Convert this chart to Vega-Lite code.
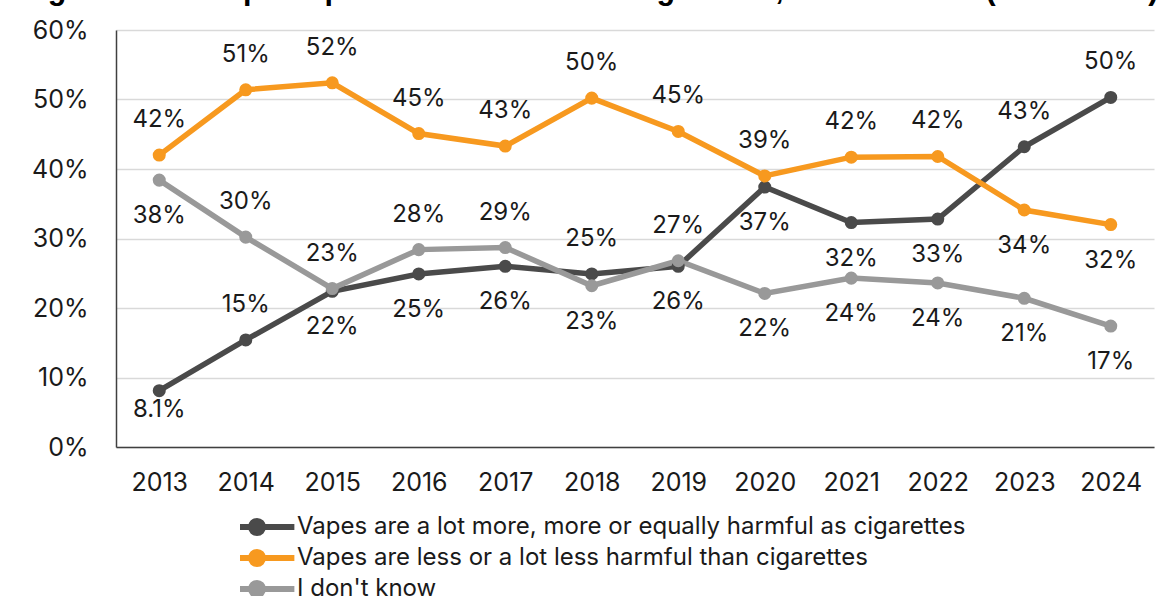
{
  "$schema": "https://vega.github.io/schema/vega-lite/v6.json",
  "width": 1038,
  "height": 417,
  "autosize": "none",
  "padding": {"left": 116, "top": 30, "right": 8, "bottom": 149},
  "background": "white",
  "title": {
    "text": "Figure 3: Adult perception of harm from e-cigarettes, Great Britain (2013–2024)",
    "anchor": "start",
    "frame": "bounds",
    "font": "Liberation Sans",
    "fontSize": 30.5,
    "fontWeight": "bold",
    "color": "#000000",
    "baseline": "alphabetic",
    "offset": 2,
    "dy": 13,
    "dx": -11
  },
  "data": {
    "values": [
      {"year": "2013", "series": "Vapes are a lot more, more or equally harmful as cigarettes", "value": 8.1, "label": "8.1%"},
      {"year": "2014", "series": "Vapes are a lot more, more or equally harmful as cigarettes", "value": 15.4, "label": "15%"},
      {"year": "2015", "series": "Vapes are a lot more, more or equally harmful as cigarettes", "value": 22.4, "label": "22%"},
      {"year": "2016", "series": "Vapes are a lot more, more or equally harmful as cigarettes", "value": 24.9, "label": "25%"},
      {"year": "2017", "series": "Vapes are a lot more, more or equally harmful as cigarettes", "value": 26.0, "label": "26%"},
      {"year": "2018", "series": "Vapes are a lot more, more or equally harmful as cigarettes", "value": 24.9, "label": "25%"},
      {"year": "2019", "series": "Vapes are a lot more, more or equally harmful as cigarettes", "value": 26.0, "label": "26%"},
      {"year": "2020", "series": "Vapes are a lot more, more or equally harmful as cigarettes", "value": 37.4, "label": "37%"},
      {"year": "2021", "series": "Vapes are a lot more, more or equally harmful as cigarettes", "value": 32.3, "label": "32%"},
      {"year": "2022", "series": "Vapes are a lot more, more or equally harmful as cigarettes", "value": 32.8, "label": "33%"},
      {"year": "2023", "series": "Vapes are a lot more, more or equally harmful as cigarettes", "value": 43.2, "label": "43%"},
      {"year": "2024", "series": "Vapes are a lot more, more or equally harmful as cigarettes", "value": 50.3, "label": "50%"},
      {"year": "2013", "series": "Vapes are less or a lot less harmful than cigarettes", "value": 42.0, "label": "42%"},
      {"year": "2014", "series": "Vapes are less or a lot less harmful than cigarettes", "value": 51.4, "label": "51%"},
      {"year": "2015", "series": "Vapes are less or a lot less harmful than cigarettes", "value": 52.4, "label": "52%"},
      {"year": "2016", "series": "Vapes are less or a lot less harmful than cigarettes", "value": 45.1, "label": "45%"},
      {"year": "2017", "series": "Vapes are less or a lot less harmful than cigarettes", "value": 43.3, "label": "43%"},
      {"year": "2018", "series": "Vapes are less or a lot less harmful than cigarettes", "value": 50.2, "label": "50%"},
      {"year": "2019", "series": "Vapes are less or a lot less harmful than cigarettes", "value": 45.4, "label": "45%"},
      {"year": "2020", "series": "Vapes are less or a lot less harmful than cigarettes", "value": 39.0, "label": "39%"},
      {"year": "2021", "series": "Vapes are less or a lot less harmful than cigarettes", "value": 41.7, "label": "42%"},
      {"year": "2022", "series": "Vapes are less or a lot less harmful than cigarettes", "value": 41.8, "label": "42%"},
      {"year": "2023", "series": "Vapes are less or a lot less harmful than cigarettes", "value": 34.1, "label": "34%"},
      {"year": "2024", "series": "Vapes are less or a lot less harmful than cigarettes", "value": 32.0, "label": "32%"},
      {"year": "2013", "series": "I don't know", "value": 38.4, "label": "38%"},
      {"year": "2014", "series": "I don't know", "value": 30.2, "label": "30%"},
      {"year": "2015", "series": "I don't know", "value": 22.8, "label": "23%"},
      {"year": "2016", "series": "I don't know", "value": 28.4, "label": "28%"},
      {"year": "2017", "series": "I don't know", "value": 28.7, "label": "29%"},
      {"year": "2018", "series": "I don't know", "value": 23.2, "label": "23%"},
      {"year": "2019", "series": "I don't know", "value": 26.8, "label": "27%"},
      {"year": "2020", "series": "I don't know", "value": 22.1, "label": "22%"},
      {"year": "2021", "series": "I don't know", "value": 24.3, "label": "24%"},
      {"year": "2022", "series": "I don't know", "value": 23.6, "label": "24%"},
      {"year": "2023", "series": "I don't know", "value": 21.4, "label": "21%"},
      {"year": "2024", "series": "I don't know", "value": 17.4, "label": "17%"}
    ]
  },
  "encoding": {
    "x": {
      "field": "year",
      "type": "ordinal",
      "scale": {"type": "point", "padding": 0.5},
      "axis": {
        "title": null,
        "labelAngle": 0,
        "ticks": false,
        "labelPadding": 23,
        "domainColor": "#404040",
        "domainWidth": 1.5,
        "grid": false
      }
    },
    "y": {
      "field": "value",
      "type": "quantitative",
      "scale": {"domain": [0, 60], "nice": false},
      "axis": {
        "title": null,
        "values": [0, 10, 20, 30, 40, 50, 60],
        "labelExpr": "datum.value + '%'",
        "ticks": false,
        "labelPadding": 28,
        "domainColor": "#404040",
        "domainWidth": 1.5,
        "gridColor": "#d9d9d9",
        "gridWidth": 1.5
      }
    }
  },
  "layer": [
    {
      "mark": {"type": "line", "strokeWidth": 5.5, "point": {"filled": true, "size": 170}},
      "encoding": {
        "color": {
          "field": "series",
          "type": "nominal",
          "sort": null,
          "scale": {
            "domain": ["Vapes are a lot more, more or equally harmful as cigarettes", "Vapes are less or a lot less harmful than cigarettes", "I don't know"],
            "range": ["#4a4a4a", "#f7991f", "#999999"]
          },
          "legend": {
            "title": null,
            "orient": "none",
            "direction": "vertical",
            "legendX": 124,
            "legendY": 483,
            "symbolType": "M-2.67,0L2.67,0M-0.43,0A0.43,0.43,0,1,1,0.43,0A0.43,0.43,0,1,1,-0.43,0Z",
            "symbolSize": 784,
            "symbolStrokeWidth": 6,
            "labelOffset": 23,
            "rowPadding": 3,
            "clipHeight": 28,
            "labelFontSize": 24,
            "labelLimit": 900,
            "encode": {"symbols": {"update": {"fill": {"field": "value", "scale": "color"}}}}
          }
        }
      }
    },
    {
      "transform": [{"filter": "(datum.series == 'Vapes are a lot more, more or equally harmful as cigarettes' && indexof(['2014','2018','2023','2024'], datum.year) >= 0) || (datum.series == 'Vapes are less or a lot less harmful than cigarettes' && indexof(['2023','2024'], datum.year) < 0) || (datum.series == \"I don't know\" && indexof(['2014','2015','2016','2017','2019'], datum.year) >= 0)"}],
      "mark": {"type": "text", "dy": -35, "fontSize": 24, "color": "#1a1a1a"},
      "encoding": {"text": {"field": "label"}}
    },
    {
      "transform": [{"filter": "(datum.series == 'Vapes are a lot more, more or equally harmful as cigarettes' && indexof(['2015','2016','2017','2019','2020','2021','2022'], datum.year) >= 0) || (datum.series == 'Vapes are less or a lot less harmful than cigarettes' && indexof(['2023','2024'], datum.year) >= 0) || (datum.series == \"I don't know\" && indexof(['2013','2018','2020','2021','2022','2023','2024'], datum.year) >= 0)"}],
      "mark": {"type": "text", "dy": 36, "fontSize": 24, "color": "#1a1a1a"},
      "encoding": {"text": {"field": "label"}}
    },
    {
      "transform": [{"filter": "datum.series == 'Vapes are a lot more, more or equally harmful as cigarettes' && datum.year == '2013'"}],
      "mark": {"type": "text", "dy": 19, "fontSize": 24, "color": "#1a1a1a"},
      "encoding": {"text": {"field": "label"}}
    }
  ],
  "config": {
    "font": "Inter",
    "view": {"stroke": null},
    "axis": {"labelFontSize": 25, "labelColor": "#1a1a1a", "labelFont": "Inter"},
    "legend": {"labelFont": "Inter", "labelColor": "#1a1a1a"}
  }
}
